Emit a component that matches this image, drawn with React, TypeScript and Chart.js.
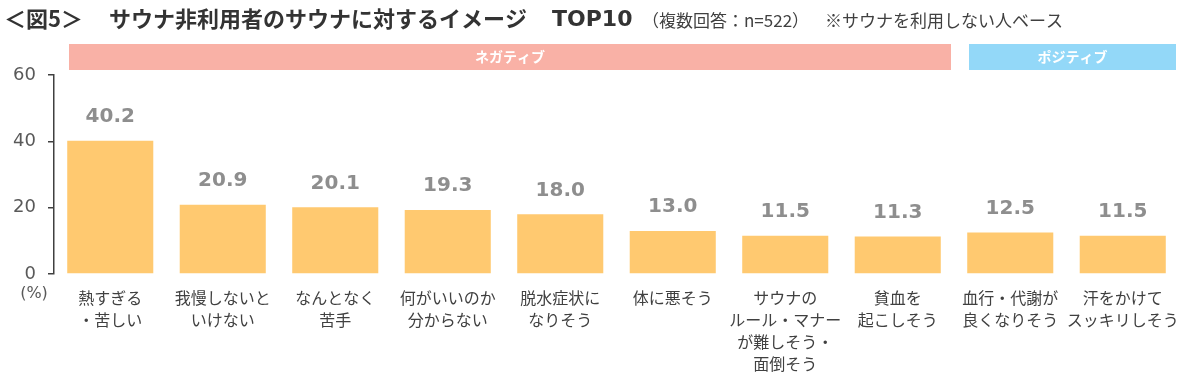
import React, { useEffect, useRef } from "react";
import { Chart, registerables } from "chart.js";

Chart.register(...registerables);

const categories: string[][] = [
  ["熱すぎる", "・苦しい"],
  ["我慢しないと", "いけない"],
  ["なんとなく", "苦手"],
  ["何がいいのか", "分からない"],
  ["脱水症状に", "なりそう"],
  ["体に悪そう"],
  ["サウナの", "ルール・マナー", "が難しそう・", "面倒そう"],
  ["貧血を", "起こしそう"],
  ["血行・代謝が", "良くなりそう"],
  ["汗をかけて", "スッキリしそう"],
];
const values = [40.2, 20.9, 20.1, 19.3, 18.0, 13.0, 11.5, 11.3, 12.5, 11.5];
const yTicks = [0, 20, 40, 60];

const groupLabels = ["ネガティブ", "ポジティブ"];
const groupStart = [0, 8];
const groupEnd = [7, 9];
const groupColors = ["#F9B1A6", "#93D8F8"];

const titleMain = "サウナ非利用者のサウナに対するイメージ";
const titlePrefix = "＜図5＞";
const titleTop = "TOP10";
const subtitle1 = "（複数回答：n=522）";
const subtitle2 = "※サウナを利用しない人ベース";
const unitLabel = "(%)";

const JP = '"Noto Sans CJK JP", "Noto Sans", sans-serif';
const NUM = '"DejaVu Sans", sans-serif';

const overlayPlugin = {
  id: "overlay",
  afterDraw(chart: any) {
    const ctx = chart.ctx;
    const x = chart.scales.x;
    ctx.save();
    // title
    ctx.textBaseline = "middle";
    ctx.textAlign = "left";
    ctx.fillStyle = "#333333";
    ctx.font = `bold 22px ${JP}`;
    ctx.fillText(titlePrefix, 4, 19);
    ctx.fillText(titleMain, 109, 19);
    ctx.font = `bold 22px ${NUM}`;
    ctx.fillText(titleTop, 552, 20);
    ctx.font = `17px ${JP}`;
    ctx.fillStyle = "#404040";
    const w1 = ctx.measureText(subtitle1).width;
    ctx.fillText(subtitle1, 642, 21);
    ctx.fillText(subtitle2, Math.max(642 + w1 + 4, 825), 21);

    // group bands
    const half = (x.getPixelForValue(1) - x.getPixelForValue(0)) / 2;
    for (let i = 0; i < groupLabels.length; i++) {
      const l = x.getPixelForValue(groupStart[i]) - half + 15;
      const r = x.getPixelForValue(groupEnd[i]) + half - 3;
      ctx.fillStyle = groupColors[i];
      ctx.fillRect(l, 44, r - l, 26);
      ctx.fillStyle = "#ffffff";
      ctx.font = `bold 14px ${JP}`;
      ctx.textAlign = "center";
      ctx.fillText(groupLabels[i], (l + r) / 2, 57);
    }

    // unit
    ctx.fillStyle = "#595959";
    ctx.font = `16px ${NUM}`;
    ctx.textAlign = "center";
    ctx.fillText(unitLabel, 34, 294);

    // value labels
    const meta = chart.getDatasetMeta(0);
    ctx.font = `bold 20px ${NUM}`;
    ctx.fillStyle = "#8E8E8E";
    meta.data.forEach((bar: any, i: number) => {
      ctx.fillText(values[i].toFixed(1), bar.x, bar.y - 24);
    });
    ctx.restore();
  },
};

export default function App() {
  const ref = useRef<HTMLCanvasElement>(null);
  useEffect(() => {
    if (!ref.current) return;
    const chart = new Chart(ref.current, {
      type: "bar",
      data: {
        labels: categories,
        datasets: [
          {
            data: values,
            backgroundColor: "#FFC970",
            borderWidth: 0,
            barPercentage: 0.765,
            categoryPercentage: 1,
          },
        ],
      },
      options: {
        responsive: false,
        animation: false,
        events: [],
        layout: { padding: { top: 75, right: 21, left: 0, bottom: 0 } },
        plugins: {
          legend: { display: false },
          tooltip: { enabled: false },
          title: { display: false },
        },
        scales: {
          x: {
            grid: { display: false },
            border: { display: false },
            ticks: {
              color: "#404040",
              padding: 5,
              autoSkip: false,
              maxRotation: 0,
              font: { family: JP, size: 16, lineHeight: 22 / 16 },
            },
            afterFit(scale: any) {
              scale.height = 104;
            },
          },
          y: {
            min: 0,
            max: 60,
            afterBuildTicks(scale: any) {
              scale.ticks = yTicks.map((v) => ({ value: v }));
            },
            grid: {
              display: true,
              drawOnChartArea: false,
              drawTicks: true,
              tickLength: 6,
              color: "#404040",
              lineWidth: 1.5,
            },
            border: { display: true, color: "#404040", width: 1.5 },
            ticks: {
              color: "#595959",
              padding: 12,
              font: { family: NUM, size: 18 },
            },
            afterFit(scale: any) {
              scale.width = 54;
            },
          },
        },
      },
      plugins: [overlayPlugin],
    });
    return () => chart.destroy();
  }, []);
  return (
    <div style={{ position: "fixed", left: 0, top: 0, width: 1200, height: 378, background: "#fff" }}>
      <canvas ref={ref} width={1200} height={378} />
    </div>
  );
}
